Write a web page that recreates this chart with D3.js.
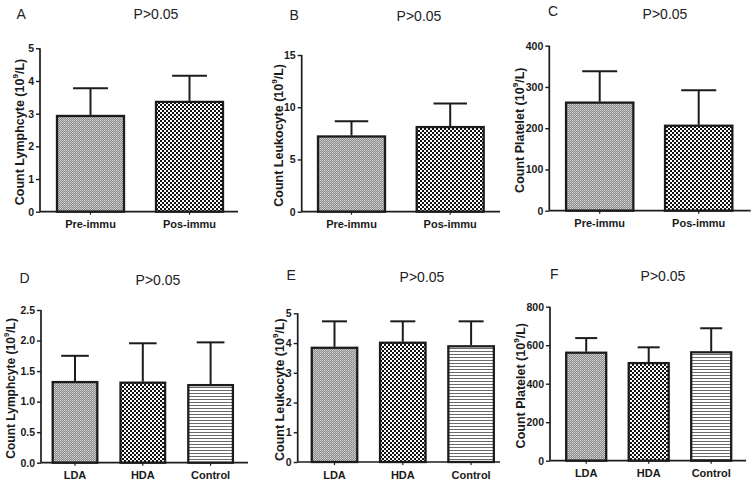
<!DOCTYPE html>
<html>
<head>
<meta charset="utf-8">
<script src="https://cdn.jsdelivr.net/npm/d3@7"></script>
<style>
  html, body { margin: 0; padding: 0; background: #fff; }
  svg { display: block; }
</style>
</head>
<body>
<svg id="chart" width="754" height="483"></svg>
<script>
// ---------------- DATA ----------------
const catsTop = ["Pre-immu", "Pos-immu"];
const catsBottom = ["LDA", "HDA", "Control"];

const lymphTopMean = [2.93, 3.36];
const lymphTopErr  = [0.85, 0.80];

const leukoTopMean = [7.2, 8.1];
const leukoTopErr  = [1.45, 2.25];

const plateTopMean = [262, 206];
const plateTopErr  = [76, 86];

const lymphBotMean = [1.32, 1.31, 1.27];
const lymphBotErr  = [0.43, 0.645, 0.70];

const leukoBotMean = [3.84, 4.01, 3.89];
const leukoBotErr  = [0.89, 0.72, 0.84];

const plateBotMean = [561, 507, 563];
const plateBotErr  = [76, 82, 125];

const pLabel = "P>0.05";
const panelLetters = ["A", "B", "C", "D", "E", "F"];
const yTitles = ["Count Lymphcyte", "Count Leukocyte", "Count Platelet",
                 "Count Lymphcyte", "Count Leukocyte", "Count Platelet"];
const ticksA = [0, 1, 2, 3, 4, 5];
const ticksB = [0, 5, 10, 15];
const ticksC = [0, 100, 200, 300, 400];
const ticksD = [0, 0.5, 1.0, 1.5, 2.0, 2.5];
const ticksE = [0, 1, 2, 3, 4, 5];
const ticksF = [0, 200, 400, 600, 800];
const patternsTop = ["patFine", "patCheck"];
const patternsBottom = ["patFine", "patCheck", "patStripe"];

// ---------------- LAYOUT ----------------
const panels = [
  {cats: catsTop, mean: lymphTopMean, err: lymphTopErr, ticks: ticksA, max: 5, fmt: d3.format("d"),
   axisX: 40, axisEnd: 238, y0: 211.7, yTop: 48.3, c0: 90.5, step: 99, bw: 67, cap: 0.52,
   titleX: 19.5, titleFs: 12.5, letterX: 16.5, letterY: 18.5, pX: 156, pY: 19, pats: patternsTop},
  {cats: catsTop, mean: leukoTopMean, err: leukoTopErr, ticks: ticksB, max: 15, fmt: d3.format("d"),
   axisX: 301.7, axisEnd: 500, y0: 211.7, yTop: 55, c0: 351.5, step: 98.7, bw: 67, cap: 0.5,
   titleX: 279, titleFs: 12.5, letterX: 289.5, letterY: 19.5, pX: 419, pY: 21, pats: patternsTop},
  {cats: catsTop, mean: plateTopMean, err: plateTopErr, ticks: ticksC, max: 400, fmt: d3.format("d"),
   axisX: 549.3, axisEnd: 750.7, y0: 210.7, yTop: 45.7, c0: 599.7, step: 99, bw: 67.3, cap: 0.52,
   titleX: 520, titleFs: 12.5, letterX: 548, letterY: 15.5, pX: 665, pY: 18.5, pats: patternsTop},
  {cats: catsBottom, mean: lymphBotMean, err: lymphBotErr, ticks: ticksD, max: 2.5, fmt: d3.format(".1f"),
   axisX: 41, axisEnd: 248, y0: 462.7, yTop: 310, c0: 75, step: 67.8, bw: 44.6, cap: 0.62,
   titleX: 11, titleFs: 12, letterX: 19.5, letterY: 283, pX: 158, pY: 285, pats: patternsBottom},
  {cats: catsBottom, mean: leukoBotMean, err: leukoBotErr, ticks: ticksE, max: 5, fmt: d3.format("d"),
   axisX: 297.7, axisEnd: 500, y0: 462, yTop: 313.3, c0: 334.5, step: 68.3, bw: 45.5, cap: 0.55,
   titleX: 280, titleFs: 12.5, letterX: 286.5, letterY: 279.5, pX: 422, pY: 282, pats: patternsBottom},
  {cats: catsBottom, mean: plateBotMean, err: plateBotErr, ticks: ticksF, max: 800, fmt: d3.format("d"),
   axisX: 550, axisEnd: 746, y0: 460.7, yTop: 306.7, c0: 586.2, step: 62.5, bw: 40, cap: 0.55,
   titleX: 521, titleFs: 12.5, letterX: 550, letterY: 278.5, pX: 663, pY: 281, pats: patternsBottom}
];

const svg = d3.select("#chart");
const defs = svg.append("defs");

// fine gray dotted pattern
const pf = defs.append("pattern").attr("id", "patFine").attr("patternUnits", "userSpaceOnUse")
  .attr("width", 2).attr("height", 2);
pf.append("rect").attr("width", 2).attr("height", 2).attr("fill", "#8c8c8c");
pf.append("rect").attr("x", 0).attr("y", 0).attr("width", 1).attr("height", 1).attr("fill", "#d2d2d2");
pf.append("rect").attr("x", 1).attr("y", 1).attr("width", 1).attr("height", 1).attr("fill", "#c0c0c0");

// black/white checker pattern
const pc = defs.append("pattern").attr("id", "patCheck").attr("patternUnits", "userSpaceOnUse")
  .attr("width", 4).attr("height", 4);
pc.append("rect").attr("width", 4).attr("height", 4).attr("fill", "#ffffff");
pc.append("rect").attr("x", 0).attr("y", 0).attr("width", 2).attr("height", 2).attr("fill", "#111");
pc.append("rect").attr("x", 2).attr("y", 2).attr("width", 2).attr("height", 2).attr("fill", "#111");

// horizontal stripes
const ps = defs.append("pattern").attr("id", "patStripe").attr("patternUnits", "userSpaceOnUse")
  .attr("width", 4).attr("height", 3);
ps.append("rect").attr("width", 4).attr("height", 3).attr("fill", "#ffffff");
ps.append("rect").attr("x", 0).attr("y", 0).attr("width", 4).attr("height", 1).attr("fill", "#6a6a6a");

const font = "'Liberation Sans', Arial, sans-serif";
const narrow = "'Liberation Sans Narrow', 'Arial Narrow', 'Liberation Sans', Arial, sans-serif";
const ink = "#1c1c1c";

panels.forEach((p, i) => {
  const g = svg.append("g");
  const n = p.cats.length;
  const pad = 1 - p.bw / p.step;
  const x = d3.scaleBand().domain(p.cats)
    .range([p.c0 - p.step / 2, p.c0 + (n - 0.5) * p.step])
    .paddingInner(pad).paddingOuter(pad / 2);
  const y = d3.scaleLinear().domain([0, p.max]).range([p.y0, p.yTop]);

  // bars
  g.selectAll("rect.bar").data(p.cats).join("rect")
    .attr("class", "bar")
    .attr("x", d => x(d))
    .attr("y", (d, j) => y(p.mean[j]))
    .attr("width", x.bandwidth())
    .attr("height", (d, j) => y(0) - y(p.mean[j]))
    .attr("fill", (d, j) => `url(#${p.pats[j]})`)
    .attr("stroke", ink).attr("stroke-width", 2.3);

  // error bars (upper only)
  const capW = x.bandwidth() * p.cap;
  g.selectAll("line.err").data(p.cats).join("line")
    .attr("class", "err")
    .attr("x1", d => x(d) + x.bandwidth() / 2).attr("x2", d => x(d) + x.bandwidth() / 2)
    .attr("y1", (d, j) => y(p.mean[j]) - 1)
    .attr("y2", (d, j) => y(p.mean[j] + p.err[j]))
    .attr("stroke", ink).attr("stroke-width", 2);
  g.selectAll("line.cap").data(p.cats).join("line")
    .attr("class", "cap")
    .attr("x1", d => x(d) + x.bandwidth() / 2 - capW / 2)
    .attr("x2", d => x(d) + x.bandwidth() / 2 + capW / 2)
    .attr("y1", (d, j) => y(p.mean[j] + p.err[j]))
    .attr("y2", (d, j) => y(p.mean[j] + p.err[j]))
    .attr("stroke", ink).attr("stroke-width", 2);

  // y axis
  const ya = g.append("g").attr("transform", `translate(${p.axisX},0)`)
    .call(d3.axisLeft(y).tickValues(p.ticks).tickFormat(p.fmt).tickSize(4).tickPadding(2));
  ya.select(".domain").attr("stroke", ink).attr("stroke-width", 1.7)
    .attr("d", `M0,${p.y0}V${p.yTop}`);
  ya.selectAll(".tick line").attr("stroke", ink).attr("stroke-width", 1.4);
  ya.selectAll(".tick text").attr("font-family", font).attr("font-weight", "bold")
    .attr("font-size", 10.5).attr("fill", "#1a1a1a");

  // x axis
  const xa = g.append("g").attr("transform", `translate(0,${p.y0})`)
    .call(d3.axisBottom(x).tickSize(3).tickPadding(6));
  xa.select(".domain").attr("stroke", ink).attr("stroke-width", 1.7)
    .attr("d", `M${p.axisX},0H${p.axisEnd}`);
  xa.selectAll(".tick line").attr("stroke", ink).attr("stroke-width", 1.2);
  xa.selectAll(".tick text").attr("font-family", font).attr("font-weight", "bold")
    .attr("font-size", 11).attr("fill", "#1a1a1a");

  // y title
  const ty = (p.yTop + p.y0) / 2 + 2;
  const t = g.append("text")
    .attr("transform", `translate(${p.titleX},${ty}) rotate(-90)`)
    .attr("text-anchor", "middle").attr("dominant-baseline", "central")
    .attr("font-family", font).attr("font-weight", "bold").attr("font-size", p.titleFs)
    .attr("fill", "#1a1a1a");
  t.append("tspan").text(yTitles[i] + " (10");
  t.append("tspan").attr("font-size", p.titleFs * 0.65).attr("dy", -5).text("9");
  t.append("tspan").attr("dy", 5).text("/L)");

  // panel letter
  g.append("text").attr("x", p.letterX).attr("y", p.letterY)
    .attr("font-family", font).attr("font-size", 14).attr("fill", "#222")
    .text(panelLetters[i]);

  // P label
  g.append("text").attr("x", p.pX).attr("y", p.pY).attr("text-anchor", "middle")
    .attr("font-family", narrow).attr("font-size", 14).attr("fill", "#222")
    .text(pLabel);
});
</script>
</body>
</html>
